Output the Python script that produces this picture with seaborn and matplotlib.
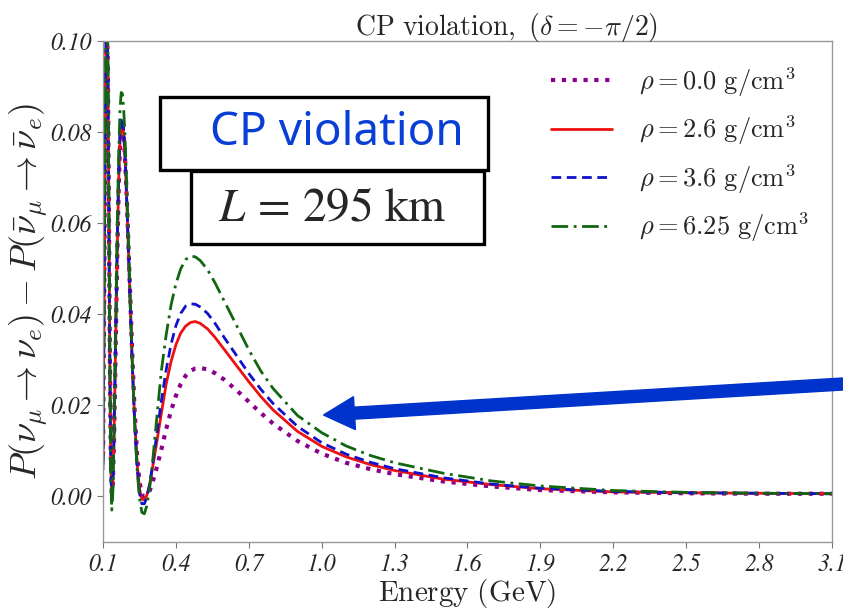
"""
CP violation probability difference vs energy for several matter densities (L = 295 km).
"""
import matplotlib
matplotlib.use("Agg")
import matplotlib.pyplot as plt
from matplotlib.patches import Rectangle, FancyArrow
from matplotlib.transforms import IdentityTransform
import pandas as pd
import seaborn as sns

# Energy grid (GeV)
energy = [0.100, 0.104, 0.108, 0.112, 0.116, 0.120, 0.124, 0.128, 0.132, 0.136,
          0.140, 0.145, 0.150, 0.155, 0.160, 0.165, 0.170, 0.175, 0.180, 0.185,
          0.190, 0.195, 0.200, 0.210, 0.220, 0.230, 0.240, 0.250, 0.260,
          0.270, 0.280, 0.290, 0.300, 0.320, 0.340, 0.360, 0.380, 0.400, 0.420,
          0.440, 0.460, 0.480,
          0.500, 0.530, 0.560, 0.600, 0.650, 0.700, 0.750, 0.800, 0.900, 1.000,
          1.100, 1.200, 1.300, 1.500, 1.700, 1.900, 2.200, 2.500, 2.800, 3.100]

dp_rho_0 = [0.0090, 0.0370, 0.0710, 0.0950, 0.1040, 0.0940, 0.0660, 0.0330, 0.0090, 0.0008,
            0.0018, 0.0115, 0.0260, 0.0420, 0.0565, 0.0685, 0.0770, 0.0805, 0.0810, 0.0790,
            0.0750, 0.0692, 0.0625, 0.0470, 0.0318, 0.0190, 0.0093, 0.0032, 0.0004,
            0.0000, 0.0003, 0.0010, 0.0024, 0.0061, 0.0103, 0.0148, 0.0188, 0.0221, 0.0247,
            0.0265, 0.0276, 0.0281,
            0.0282, 0.0279, 0.0271, 0.0256, 0.0233, 0.0208, 0.0183, 0.0160, 0.0122, 0.0094,
            0.0074, 0.0060, 0.0049, 0.0033, 0.0022, 0.0014, 0.0009, 0.0007, 0.0006, 0.0006]

dp_rho_26 = [0.0080, 0.0380, 0.0730, 0.0970, 0.1060, 0.0940, 0.0640, 0.0310, 0.0075, 0.0000,
             0.0020, 0.0125, 0.0275, 0.0435, 0.0580, 0.0700, 0.0780, 0.0815, 0.0818, 0.0795,
             0.0750, 0.0688, 0.0615, 0.0455, 0.0300, 0.0172, 0.0076, 0.0017, -0.0006,
             -0.0007, 0.0002, 0.0021, 0.0051, 0.0115, 0.0182, 0.0247, 0.0296, 0.0333, 0.0359,
             0.0374, 0.0382, 0.0384,
             0.0380, 0.0368, 0.0350, 0.0322, 0.0287, 0.0252, 0.0219, 0.0190, 0.0143, 0.0110,
             0.0087, 0.0070, 0.0057, 0.0038, 0.0026, 0.0017, 0.0010, 0.0008, 0.0007, 0.0006]

dp_rho_36 = [0.0070, 0.0380, 0.0740, 0.0990, 0.1080, 0.0950, 0.0640, 0.0300, 0.0065, -0.0010,
             0.0015, 0.0125, 0.0280, 0.0445, 0.0595, 0.0715, 0.0795, 0.0832, 0.0832, 0.0805,
             0.0755, 0.0690, 0.0615, 0.0450, 0.0295, 0.0165, 0.0068, 0.0008, -0.0016,
             -0.0016, -0.0003, 0.0022, 0.0054, 0.0131, 0.0209, 0.0278, 0.0334, 0.0375, 0.0402,
             0.0418, 0.0423, 0.0422,
             0.0416, 0.0402, 0.0381, 0.0348, 0.0309, 0.0270, 0.0235, 0.0204, 0.0154, 0.0118,
             0.0093, 0.0075, 0.0061, 0.0041, 0.0027, 0.0018, 0.0011, 0.0008, 0.0007, 0.0006]

dp_rho_625 = [0.0058, 0.0381, 0.0757, 0.1027, 0.1120, 0.0981, 0.0658, 0.0306, 0.0057, -0.0030,
              0.0003, 0.0122, 0.0290, 0.0470, 0.0635, 0.0763, 0.0849, 0.0887, 0.0884, 0.0852,
              0.0797, 0.0726, 0.0644, 0.0469, 0.0303, 0.0165, 0.0062, -0.0003, -0.0035,
              -0.0038, -0.0021, 0.0011, 0.0053, 0.0165, 0.0275, 0.0355, 0.0420, 0.0467, 0.0500,
              0.0520, 0.0528, 0.0526,
              0.0518, 0.0498, 0.0470, 0.0428, 0.0375, 0.0322, 0.0275, 0.0237, 0.0178, 0.0140,
              0.0111, 0.0090, 0.0074, 0.0051, 0.0034, 0.0023, 0.0013, 0.0009, 0.0007, 0.0006]

series_labels = [r"$\rho = 0.0\ \mathrm{g/cm^3}$", r"$\rho = 2.6\ \mathrm{g/cm^3}$",
                 r"$\rho = 3.6\ \mathrm{g/cm^3}$", r"$\rho = 6.25\ \mathrm{g/cm^3}$"]
x_ticks = [0.1, 0.4, 0.7, 1.0, 1.3, 1.6, 1.9, 2.2, 2.5, 2.8, 3.1]
x_tick_labels = ["0.1", "0.4", "0.7", "1.0", "1.3", "1.6", "1.9", "2.2", "2.5", "2.8", "3.1"]
y_ticks = [0.00, 0.02, 0.04, 0.06, 0.08, 0.10]
y_tick_labels = ["0.00", "0.02", "0.04", "0.06", "0.08", "0.10"]

# long-form table for seaborn
df = pd.concat([
    pd.DataFrame({"Energy": energy, "dP": vals, "rho": lab})
    for vals, lab in zip([dp_rho_0, dp_rho_26, dp_rho_36, dp_rho_625], series_labels)
])

sns.set_style("white")
plt.rcParams["font.family"] = ["Liberation Serif", "DejaVu Serif"]
plt.rcParams["mathtext.fontset"] = "cm"

W, H = 843, 611
fig = plt.figure(figsize=(W / 100, H / 100), dpi=100)
ax = fig.add_axes([103 / W, 1 - 542 / H, (832 - 103) / W, (542 - 41) / H])

styles = {
    series_labels[0]: dict(color="#8b008b", linestyle=(0, (1, 1.6)), lw=3.0),
    series_labels[1]: dict(color="#ee1111", linestyle="-", lw=2.0),
    series_labels[2]: dict(color="#1111cc", linestyle=(0, (3.5, 2)), lw=2.0),
    series_labels[3]: dict(color="#116611", linestyle=(0, (6, 2, 1, 2)), lw=2.0),
}
for lab in series_labels:
    sub = df[df["rho"] == lab]
    sns.lineplot(data=sub, x="Energy", y="dP", ax=ax, label=lab, **styles[lab])

ax.set_xlim(0.1, 3.1)
ax.set_ylim(-0.01, 0.10)
# italic Times-like tick labels (STIX ships with matplotlib)
tick_font = dict(family="STIXGeneral", fontstyle="italic", fontsize=17)
ax.set_xticks(x_ticks)
ax.set_xticklabels(x_tick_labels, **tick_font)
ax.set_yticks(y_ticks)
ax.set_yticklabels(y_tick_labels, **tick_font)
ax.tick_params(axis="both", length=4, width=0.8, color="#777777", pad=4, direction="out",
               bottom=True, left=True)
for sp in ax.spines.values():
    sp.set_color("#999999")
    sp.set_linewidth(1.0)

ax.set_xlabel(r"$\mathrm{Energy\ (GeV)}$", fontsize=21, labelpad=1)
ax.set_ylabel(r"$P(\nu_\mu \rightarrow \nu_e) - P(\bar{\nu}_\mu \rightarrow \bar{\nu}_e)$",
              fontsize=26, labelpad=0)
ax.set_title(r"$\mathrm{CP\ violation,\ }(\delta = -\pi/2)$", fontsize=20, pad=4, x=0.553)

ax.legend(loc="upper right", frameon=False, fontsize=19, handlelength=2.3,
          labelspacing=0.55, borderaxespad=0.5, handletextpad=1.0)

# annotation boxes drawn on top, in figure pixels
px = IdentityTransform()
box2 = Rectangle((191, H - 244), 293, 73, transform=px, facecolor="white",
                 edgecolor="black", lw=2.4, zorder=10)
box1 = Rectangle((160, H - 170), 328, 73, transform=px, facecolor="white",
                 edgecolor="black", lw=2.4, zorder=11)
fig.add_artist(box2)
fig.add_artist(box1)
fig.text(337 / W, 1 - 133 / H, "CP violation", ha="center", va="center", fontsize=33,
         color="#0a3fd6", family=["Noto Sans", "DejaVu Sans"], zorder=12)
fig.text(332 / W, 1 - 209 / H, r"$L\,=\,295\ \mathrm{km}$", ha="center", va="center",
         fontsize=34, math_fontfamily="stix", zorder=12)

arrow = FancyArrow(843, H - 384, 323.5 - 843, (H - 415) - (H - 384), width=12,
                   head_width=33, head_length=31, length_includes_head=True,
                   color="#0033cc", transform=px, zorder=12)
fig.add_artist(arrow)

fig.savefig("out.png", dpi=100)
